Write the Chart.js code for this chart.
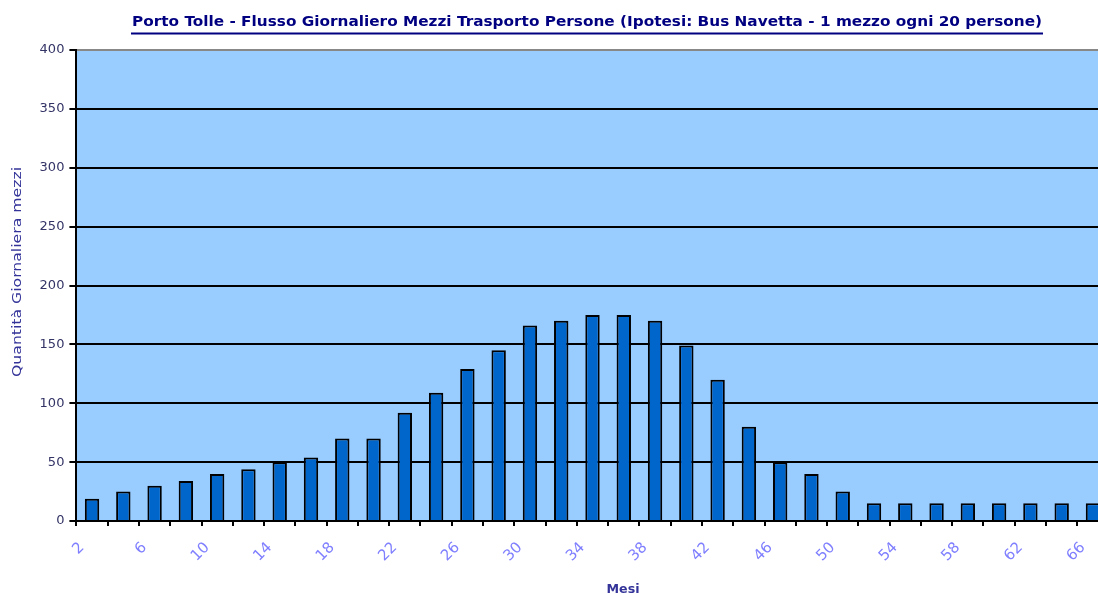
<html>
<head>
  <title>Porto Tolle - Flusso Giornaliero Mezzi</title>
  <script src="https://cdn.jsdelivr.net/npm/chart.js"></script>
  <style>
    body { margin: 0; overflow: hidden; background: #fff; }
    #box { width: 1120px; height: 594px; }
  </style>
</head>

<body>
  <div id="box">
    <canvas id="myChart" width="1120" height="594"></canvas>
  </div>
  <script>
    // mesi (categorie sull'asse x)
    const mesi = [2, 4, 6, 8, 10, 12, 14, 16, 18, 20, 22, 24, 26, 28, 30, 32, 34,
                  36, 38, 40, 42, 44, 46, 48, 50, 52, 54, 56, 58, 60, 62, 64, 66];
    // quantità giornaliera di mezzi per ogni mese
    const mezzi = [19, 25, 30, 34, 40, 44, 50, 54, 70, 70, 92, 109, 129, 145, 166, 170, 175,
                   175, 170, 149, 120, 80, 50, 40, 25, 15, 15, 15, 15, 15, 15, 15, 15];
    // etichette asse y
    const tickY = [0, 50, 100, 150, 200, 250, 300, 350, 400];

    const titolo = 'Porto Tolle - Flusso Giornaliero Mezzi Trasporto Persone (Ipotesi: Bus Navetta - 1 mezzo ogni 20 persone)';
    const titoloY = 'Quantità Giornaliera mezzi';
    const titoloX = 'Mesi';

    const FONT = '"DejaVu Sans", Verdana, sans-serif';

    // sfondo azzurro dell'area del grafico
    const sfondo = {
      id: 'sfondo',
      beforeDraw(chart) {
        const { ctx, chartArea: a } = chart;
        ctx.save();
        ctx.fillStyle = '#99ccff';
        ctx.fillRect(a.left, a.top, a.right - a.left, a.bottom - a.top);
        ctx.restore();
      }
    };

    // scrive un testo centrato in (x, y) allargandolo fino alla larghezza w
    function testoLargo(ctx, txt, x, y, w) {
      const m = ctx.measureText(txt).width;
      ctx.save();
      ctx.translate(x, y);
      ctx.scale(w / m, 1);
      ctx.fillText(txt, 0, 0);
      ctx.restore();
    }

    // titolo sottolineato e titoli degli assi
    const titoli = {
      id: 'titoli',
      afterDraw(chart) {
        const ctx = chart.ctx;
        ctx.save();
        ctx.textAlign = 'center';
        ctx.textBaseline = 'middle';

        ctx.fillStyle = '#000080';
        ctx.font = 'bold 14px ' + FONT;
        testoLargo(ctx, titolo, 587, 22, 910);
        ctx.strokeStyle = '#000080';
        ctx.lineWidth = 2;
        ctx.beginPath();
        ctx.moveTo(131, 33.5);
        ctx.lineTo(1043, 33.5);
        ctx.stroke();

        ctx.fillStyle = '#333399';
        ctx.font = 'bold 12px ' + FONT;
        testoLargo(ctx, titoloX, 623, 590, 33);

        ctx.font = '12px ' + FONT;
        ctx.translate(18, 272);
        ctx.rotate(-Math.PI / 2);
        testoLargo(ctx, titoloY, 0, 0, 210);
        ctx.restore();
      }
    };

    const ctx = document.getElementById('myChart').getContext('2d');
    const myChart = new Chart(ctx, {
      type: 'bar',
      data: {
        labels: mesi,
        datasets: [{
          label: 'Mezzi',
          data: mezzi,
          backgroundColor: '#0066cc',
          borderColor: '#000000',
          borderWidth: 2,
          borderSkipped: 'bottom',
          categoryPercentage: 1,
          barPercentage: 0.46
        }]
      },
      options: {
        responsive: false,
        animation: false,
        layout: { padding: { left: 0, right: 11.4, top: 50, bottom: 0 } },
        plugins: {
          legend: { display: false },
          tooltip: { enabled: false }
        },
        scales: {
          x: {
            afterFit(scale) { scale.height = 73; },
            grid: {
              offset: true,
              drawOnChartArea: false,
              drawTicks: true,
              tickLength: 5,
              color: '#000',
              lineWidth: 2
            },
            border: { color: '#000', width: 2 },
            ticks: {
              autoSkip: false,
              minRotation: 45,
              maxRotation: 45,
              padding: 13,
              labelOffset: -10,
              color: '#7f7fff',
              font: { family: FONT, size: 15 },
              callback(val, i) { return i % 2 === 0 ? String(mesi[i]) : ''; }
            }
          },
          y: {
            min: 0,
            max: 400,
            afterFit(scale) { scale.width = 76.4; },
            afterBuildTicks(scale) { scale.ticks = tickY.map(v => ({ value: v })); },
            grid: {
              color: c => (c.tick && c.tick.value === 400 ? '#888' : '#000'),
              tickColor: '#000',
              lineWidth: 2,
              tickLength: 7
            },
            border: { color: '#000', width: 2 },
            ticks: {
              padding: 5,
              color: '#333366',
              font: { family: FONT, size: 13 }
            }
          }
        }
      },
      plugins: [sfondo, titoli]
    });
  </script>
</body>

</html>
